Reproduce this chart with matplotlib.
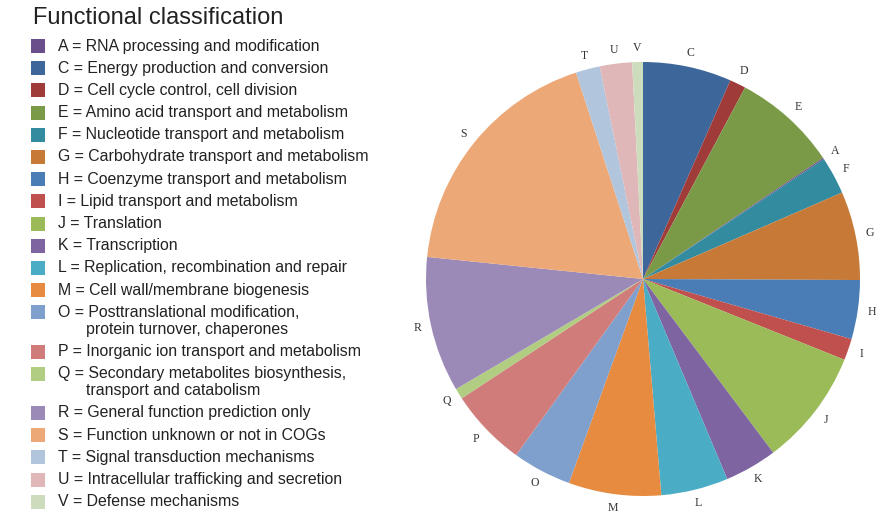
import numpy as np
import matplotlib
matplotlib.use("Agg")
import matplotlib.pyplot as plt
from matplotlib.patches import Rectangle

# COG categories, in legend order
codes = ['A', 'C', 'D', 'E', 'F', 'G', 'H', 'I', 'J', 'K',
         'L', 'M', 'O', 'P', 'Q', 'R', 'S', 'T', 'U', 'V']
descriptions = [
    'RNA processing and modification',
    'Energy production and conversion',
    'Cell cycle control, cell division',
    'Amino acid transport and metabolism',
    'Nucleotide transport and metabolism',
    'Carbohydrate transport and metabolism',
    'Coenzyme transport and metabolism',
    'Lipid transport and metabolism',
    'Translation',
    'Transcription',
    'Replication, recombination and repair',
    'Cell wall/membrane biogenesis',
    'Posttranslational modification,\nprotein turnover, chaperones',
    'Inorganic ion transport and metabolism',
    'Secondary metabolites biosynthesis,\ntransport and catabolism',
    'General function prediction only',
    'Function unknown or not in COGs',
    'Signal transduction mechanisms',
    'Intracellular trafficking and secretion',
    'Defense mechanisms',
]
counts = [1, 66, 12, 78, 28, 66, 44, 16, 87, 39,
          50, 69, 44, 58, 8, 101, 184, 18, 24, 8]

# order of the slices in the pie (clockwise from the top)
pie_order = ['C', 'D', 'E', 'A', 'F', 'G', 'H', 'I', 'J', 'K',
             'L', 'M', 'O', 'P', 'Q', 'R', 'S', 'T', 'U', 'V']

colors = ['#6a4e8c', '#3d679b', '#9f3b39', '#7a9a48', '#338b9f', '#c77a38',
          '#4a7db5', '#c0504d', '#9bbb59', '#7e64a0', '#4aacc5', '#e68b40',
          '#7f9fcc', '#d07c7a', '#b0cd82', '#9b8ab8', '#eda877', '#b1c5dc',
          '#dfb7b8', '#cddcbc']
col = dict(zip(codes, colors))
cnt = dict(zip(codes, counts))

W, H = 876, 524
fig = plt.figure(figsize=(W / 100, H / 100), dpi=100)

# pie
cx, cy, r = 643, 279, 217
ax = fig.add_axes([(cx - r) / W, (H - cy - r) / H, 2 * r / W, 2 * r / H])
vals = [cnt[c] for c in pie_order]
wedges, texts = ax.pie(vals, labels=pie_order, colors=[col[c] for c in pie_order],
                       startangle=90, counterclock=False, labeldistance=1.065,
                       wedgeprops=dict(linewidth=0),
                       textprops=dict(fontsize=8.5, family='Liberation Serif',
                                      color='#333333'))
for t in texts:
    t.set_ha('center')
    t.set_va('center')
ax.set_xlim(-1, 1)
ax.set_ylim(-1, 1)
ax.set_aspect('equal')

# legend
fs = 11.4
fig.text(33 / W, 1 - 18 / H, 'Functional classification', fontsize=17,
         family='Liberation Sans', va='center', ha='left', color='#222222')
y = 46
for c, d in zip(codes, descriptions):
    lines = d.split('\n')
    fig.add_artist(Rectangle((31 / W, 1 - (y + 7) / H), 14 / W, 14 / H,
                             transform=fig.transFigure, color=col[c], lw=0))
    fig.text(58 / W, 1 - y / H, f'{c} = {lines[0]}', fontsize=fs,
             family='Liberation Sans', va='center', ha='left', color='#222222')
    for extra in lines[1:]:
        y += 17
        fig.text(86 / W, 1 - y / H, extra, fontsize=fs,
                 family='Liberation Sans', va='center', ha='left', color='#222222')
    y += 22.2

fig.savefig('out.png', dpi=100)
